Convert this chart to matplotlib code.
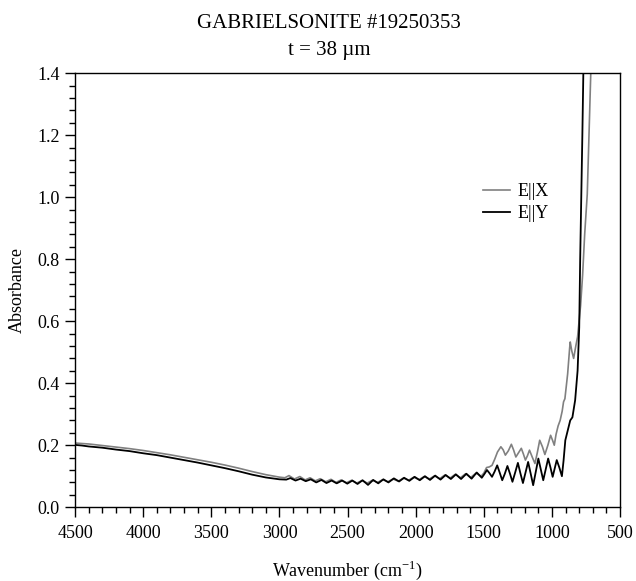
import matplotlib
matplotlib.use('Agg')
import matplotlib.pyplot as plt
from matplotlib.ticker import MultipleLocator

plt.rcParams['font.family'] = ['Liberation Serif', 'DejaVu Serif']
plt.rcParams['mathtext.fontset'] = 'custom'
plt.rcParams['mathtext.rm'] = 'Liberation Serif'

title = 'GABRIELSONITE #19250353\nt = 38 \u00b5m'

# E||X (grey)
wn_x = [4500, 4400, 4300, 4200, 4100, 4000, 3900, 3800, 3700, 3600, 3500, 3400, 3300,
        3200, 3100, 3000, 2960,
        2930, 2890, 2850, 2812, 2775, 2737, 2700, 2660, 2622, 2585, 2547, 2508, 2470,
        2432, 2395, 2355, 2318, 2280, 2242, 2205, 2167, 2128, 2090, 2052, 2014, 1975,
        1938, 1900, 1862, 1824, 1786, 1748, 1710, 1672, 1634, 1596, 1558, 1520,
        1500, 1480, 1460, 1440, 1420, 1400, 1375, 1358, 1342, 1320, 1298, 1282,
        1265, 1245, 1225, 1210, 1195, 1180, 1165, 1145, 1125, 1108, 1090, 1070,
        1052, 1030, 1010, 995, 983, 970, 955, 940, 925, 915, 905, 885, 870, 866,
        855, 841, 825, 812, 790, 775, 760, 741, 725, 712]
abs_x = [0.207, 0.204, 0.199, 0.194, 0.189, 0.183, 0.176, 0.169, 0.161, 0.153, 0.145,
         0.136, 0.126, 0.115, 0.105, 0.097, 0.095,
         0.102, 0.091, 0.099, 0.088, 0.095, 0.085, 0.092, 0.082, 0.090, 0.080, 0.088,
         0.079, 0.087, 0.078, 0.086, 0.078, 0.087, 0.080, 0.089, 0.082, 0.091, 0.084,
         0.094, 0.087, 0.097, 0.089, 0.099, 0.091, 0.101, 0.092, 0.104, 0.094, 0.106,
         0.095, 0.108, 0.096, 0.110, 0.100,
         0.110, 0.128, 0.130, 0.135, 0.155, 0.178, 0.195, 0.185, 0.168, 0.182, 0.203,
         0.185, 0.162, 0.176, 0.190, 0.172, 0.152, 0.166, 0.184, 0.162, 0.141, 0.175,
         0.216, 0.195, 0.170, 0.200, 0.232, 0.215, 0.200, 0.235, 0.262, 0.280, 0.310,
         0.340, 0.350, 0.430, 0.515, 0.533, 0.505, 0.480, 0.520, 0.550, 0.650, 0.750,
         0.880, 1.010, 1.250, 1.450]

# E||Y (black)
wn_y = [4500, 4450, 4400, 4300, 4200, 4100, 4000, 3900, 3800, 3700, 3600, 3500, 3400,
        3300, 3200, 3100, 3000, 2950,
        2920, 2882, 2845, 2807, 2770, 2730, 2692, 2655, 2617, 2580, 2540, 2502, 2465,
        2427, 2390, 2350, 2312, 2275, 2237, 2200, 2160, 2122, 2085, 2047, 2008, 1970,
        1932, 1895, 1857, 1818, 1780, 1742, 1705, 1667, 1628, 1590, 1552,
        1515, 1496, 1477, 1459, 1440, 1421, 1402, 1384, 1365, 1346, 1327, 1308, 1290,
        1270, 1250, 1232, 1213, 1194, 1175, 1156, 1138, 1119, 1100, 1082, 1064,
        1046, 1028, 1011, 995, 980, 965, 946, 927, 915, 902, 866, 850, 830, 812,
        800, 793, 785, 777, 768]
abs_y = [0.201, 0.199, 0.196, 0.192, 0.186, 0.181, 0.174, 0.168, 0.160, 0.152, 0.144,
         0.135, 0.126, 0.116, 0.105, 0.096, 0.090, 0.089,
         0.094, 0.086, 0.092, 0.084, 0.090, 0.080, 0.088, 0.078, 0.086, 0.077, 0.086,
         0.076, 0.086, 0.075, 0.087, 0.072, 0.088, 0.077, 0.090, 0.080, 0.093, 0.083,
         0.095, 0.085, 0.098, 0.087, 0.100, 0.088, 0.102, 0.089, 0.104, 0.091, 0.106,
         0.091, 0.108, 0.092, 0.112,
         0.095, 0.107, 0.120, 0.110, 0.098, 0.115, 0.135, 0.112, 0.087, 0.108, 0.133,
         0.108, 0.082, 0.112, 0.143, 0.110, 0.078, 0.112, 0.146, 0.108, 0.071, 0.114,
         0.157, 0.122, 0.087, 0.122, 0.157, 0.128, 0.098, 0.125, 0.152, 0.128, 0.100,
         0.150, 0.216, 0.280, 0.290, 0.345, 0.440, 0.580, 0.800, 1.000, 1.200, 1.450]

fg = plt.figure(figsize=(6.36, 5.81), dpi=100)
ax = fg.add_axes([0.118, 0.127, 0.857, 0.747])

ax.plot(wn_x, abs_x, color='#808080', lw=1.2, label='E||X')
ax.plot(wn_y, abs_y, color='black', lw=1.3, label='E||Y')

ax.set_xlim(4500, 500)
ax.set_ylim(0, 1.4)
ax.xaxis.set_major_locator(MultipleLocator(500))
ax.xaxis.set_minor_locator(MultipleLocator(100))
ax.yaxis.set_major_locator(MultipleLocator(0.2))
ax.yaxis.set_minor_locator(MultipleLocator(0.04))
ax.yaxis.set_major_formatter(plt.FormatStrFormatter('%.1f'))
ax.tick_params(axis='both', which='both', direction='out', top=False, right=False,
               labelsize=13, width=1)
ax.tick_params(which='major', length=7)
ax.tick_params(axis='x', which='major', pad=6)
ax.tick_params(axis='y', which='major', pad=4)
ax.tick_params(which='minor', length=4)
for s in ax.spines.values():
    s.set_linewidth(1)

ax.set_xlabel('Wavenumber (cm$^{\\mathregular{-1}}$)', fontsize=13, labelpad=12)
ax.set_ylabel('Absorbance', fontsize=13, labelpad=8)

fg.text(0.517, 1 - 37 / 581, title, ha='center', va='center', fontsize=15,
        linespacing=1.55)

ax.legend(loc='upper left', bbox_to_anchor=(474 / 636, 1 - 174 / 581),
          bbox_transform=fg.transFigure, frameon=False, fontsize=13,
          handlelength=1.5, handletextpad=0.4, borderpad=0, labelspacing=0.3)

fg.savefig('out.png', dpi=100)
